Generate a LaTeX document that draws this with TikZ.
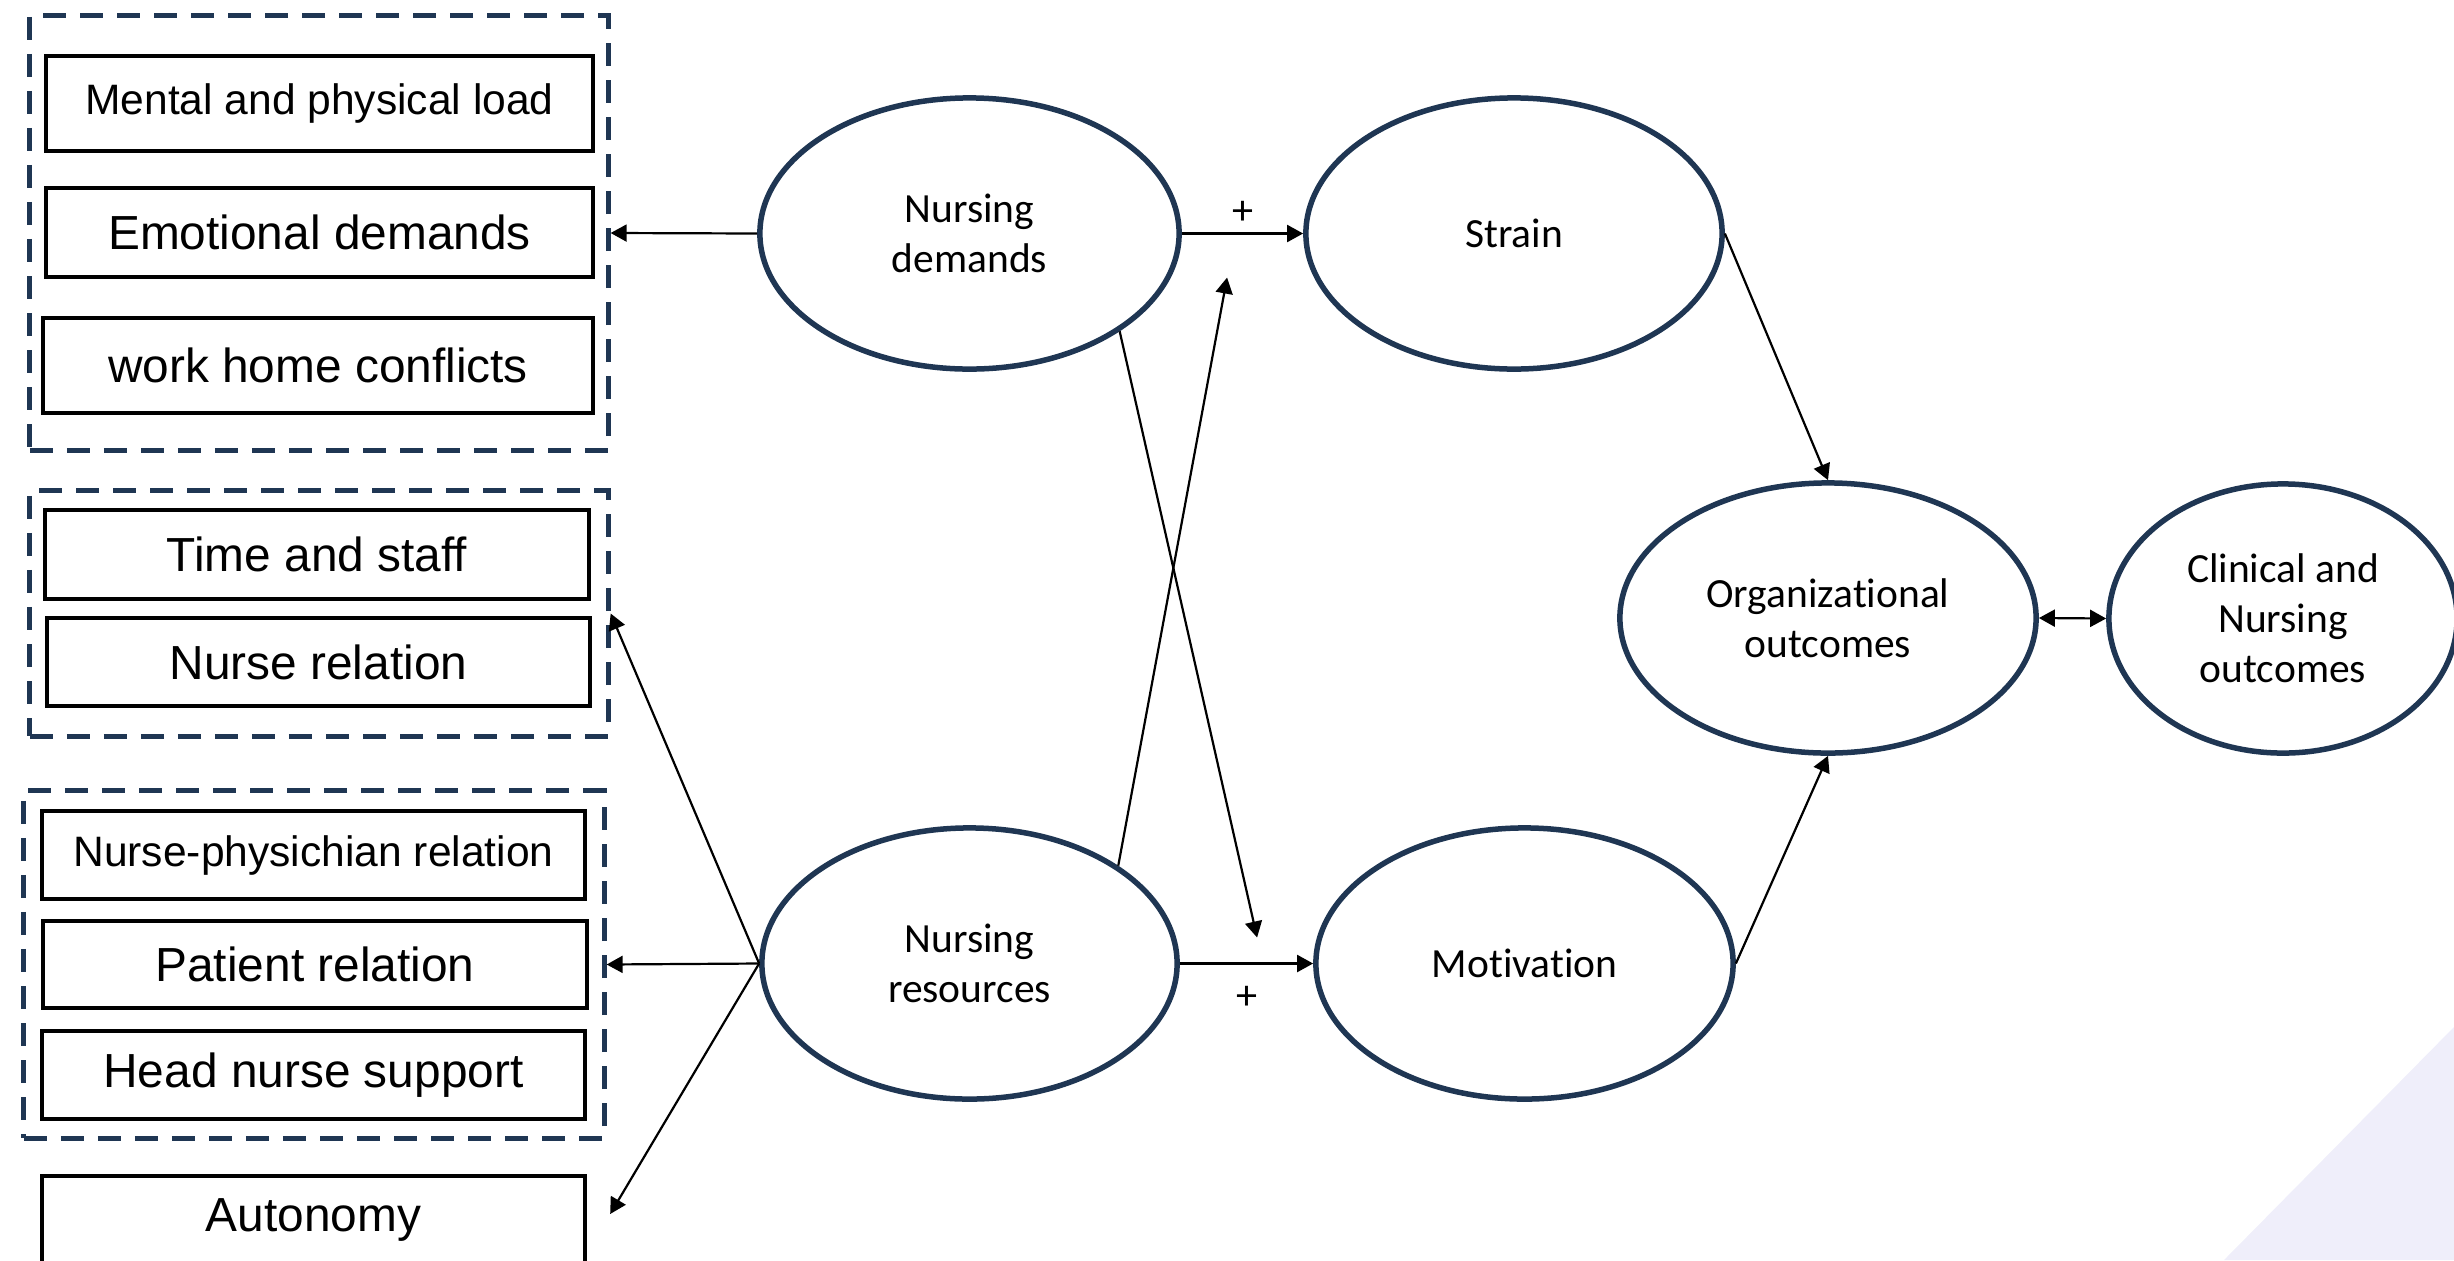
\documentclass[tikz,border=0pt]{standalone}
\usepackage{fontspec}
\setmainfont{Liberation Sans}
\newfontfamily\ellfont[Ligatures=NoCommon]{Carlito}
\usetikzlibrary{shapes.geometric,arrows.meta,calc}
\definecolor{navy}{HTML}{1F3653}
\definecolor{lavender}{HTML}{EFEEFA}
\begin{document}
\begin{tikzpicture}[x=0.01cm,y=-0.01cm,
  item/.style={draw=black, line width=0.04cm, inner sep=0pt,
    font=\fontsize{13.6}{16}\selectfont},
  smallitem/.style={item, font=\fontsize{12.1}{14}\selectfont},
  group/.style={draw=navy, line width=0.05cm, dash pattern=on 0.23cm off 0.14cm, inner sep=0pt},
  latent/.style={ellipse, draw=navy, line width=0.055cm, inner sep=0pt, align=center,
    minimum height=2.71cm, font=\ellfont\fontsize{11.8}{14.2}\selectfont},
  link/.style={draw=black, line width=0.022cm, -{Triangle[length=0.16cm,width=0.17cm]}},
  dlink/.style={draw=black, line width=0.022cm,
    {Triangle[length=0.16cm,width=0.17cm]}-{Triangle[length=0.16cm,width=0.17cm]}},
  sign/.style={font=\ellfont\fontsize{12}{14}\selectfont, inner sep=0pt}
]
\path[use as bounding box] (0,0) rectangle (2454,1260);
\clip (0,0) rectangle (2454,1260);

% corner decoration
\fill[lavender] (2224,1260) -- (2454,1027) -- (2454,1260) -- cycle;

% dashed groups of indicators
\node[group, minimum width=5.78cm, minimum height=4.34cm] (g1) at (319,233) {};
\node[group, minimum width=5.78cm, minimum height=2.45cm] (g2) at (319,613.5) {};
\node[group, minimum width=5.80cm, minimum height=3.47cm] (g3) at (314,964.5) {};

% indicator boxes
\node[smallitem, minimum width=5.47cm, minimum height=0.95cm] (mental) at (319.5,103.5) {Mental and physical load};
\node[item, minimum width=5.47cm, minimum height=0.89cm] (emo) at (319.5,232.5) {Emotional demands};
\node[item, minimum width=5.50cm, minimum height=0.95cm] (work) at (318,365.5) {work home conflicts};
\node[item, minimum width=5.44cm, minimum height=0.89cm] (time) at (317,554.5) {Time and staff};
\node[item, minimum width=5.43cm, minimum height=0.88cm] (nrel) at (318.5,662) {Nurse relation};
\node[smallitem, minimum width=5.43cm, minimum height=0.88cm] (phys) at (313.5,855) {Nurse-physichian relation};
\node[item, minimum width=5.44cm, minimum height=0.87cm] (pat) at (315,964.5) {Patient relation};
\node[item, minimum width=5.43cm, minimum height=0.88cm] (head) at (313.5,1075) {Head nurse support};
\node[item, minimum width=5.43cm, minimum height=0.88cm] (auto) at (313.5,1220) {Autonomy};

% latent constructs
\node[latent, minimum width=4.19cm] (nd) at (969.5,233.5) {Nursing\\demands};
\node[latent, minimum width=4.16cm] (strain) at (1514,233.5) {Strain};
\node[latent, minimum width=4.15cm] (nr) at (969.5,963.5) {Nursing\\resources};
\node[latent, minimum width=4.17cm] (mot) at (1524.5,963.5) {Motivation};
\node[latent, minimum width=4.16cm, minimum height=2.70cm] (org) at (1828,618) {Organizational\\outcomes};
\node[latent, minimum width=3.48cm, minimum height=2.69cm] (clin) at (2283,618.5) {Clinical and\\Nursing\\outcomes};

% paths
\draw[link] (nd.west) -- (g1.east);
\draw[link] (nr.west) -- (g2.east);
\draw[link] (nr.west) -- (g3.east);
\draw[link] (nr.west) -- ([xshift=0.23cm,yshift=0.06cm]auto.east);
\draw[link] (nd.east) -- (strain.west);
\draw[link] (nr.east) -- (mot.west);
\draw[link] (nd.south east) -- ([xshift=-0.56cm,yshift=0.26cm]mot.west);
\draw[link] (nr.north east) -- ([xshift=-0.76cm,yshift=-0.44cm]strain.west);
\draw[link] (strain.east) -- (org.north);
\draw[link] (mot.east) -- (org.south);
\draw[dlink] (org.east) -- (clin.west);

% signs
\node[sign] (plusA) at ($(nd.east)!0.5!(strain.west)+(0,-21)$) {+};
\node[sign] (plusB) at ($(nr.east)!0.5!(mot.west)+(0,34)$) {+};
\end{tikzpicture}
\end{document}
